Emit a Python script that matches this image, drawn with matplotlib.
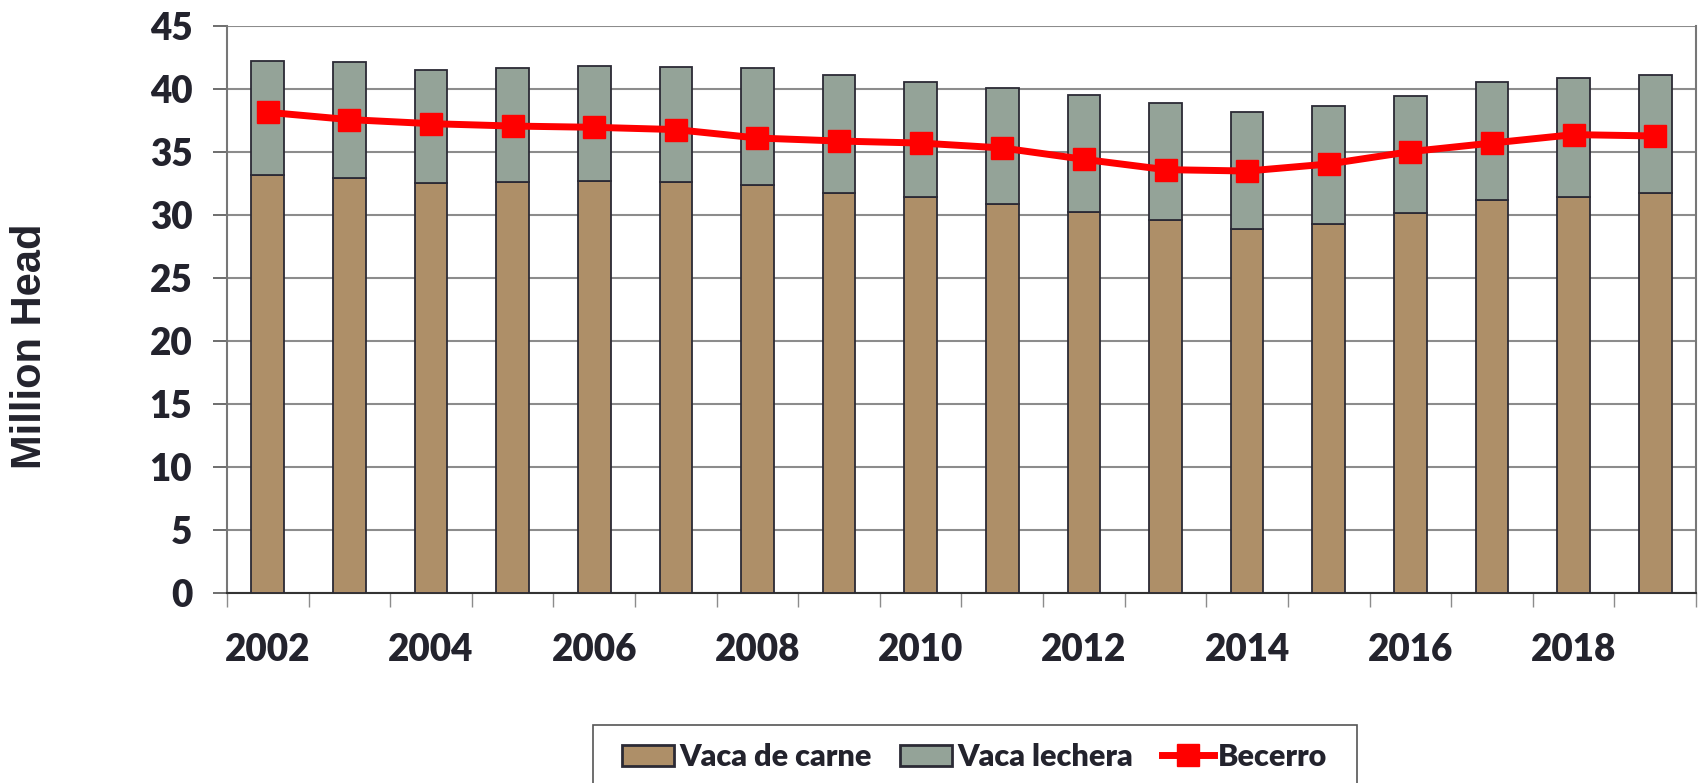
import numpy as np
import matplotlib
matplotlib.use("Agg")
import matplotlib.pyplot as plt
from matplotlib.patches import Rectangle
from matplotlib.lines import Line2D
from matplotlib.patches import Patch

# values (million head)
years = list(range(2002, 2020))
beef = [33.15, 32.97, 32.52, 32.65, 32.67, 32.62, 32.41, 31.78, 31.43,
        30.90, 30.24, 29.63, 28.92, 29.32, 30.16, 31.17, 31.43, 31.75]
dairy = [9.05, 9.15, 9.02, 9.02, 9.13, 9.16, 9.26, 9.33, 9.13,
         9.18, 9.28, 9.24, 9.25, 9.31, 9.28, 9.39, 9.44, 9.36]
calves = [38.15, 37.57, 37.25, 37.06, 36.96, 36.78, 36.11, 35.87, 35.71,
          35.32, 34.42, 33.60, 33.49, 34.05, 35.03, 35.71, 36.38, 36.27]
labels = ["Vaca de carne", "Vaca lechera", "Becerro"]
yticks = list(range(0, 50, 5))

brown = "#ae8f68"
green = "#94a398"
edge = "#2b2a35"
txt = "#23232d"
grid = "#8c8c8c"
tickfont = "Lato"

fig = plt.figure(figsize=(16.99, 7.83), dpi=100)
ax = fig.add_axes([227 / 1699, 1 - 593 / 783, 1469 / 1699, 567 / 783])

x = np.arange(len(years))
ax.bar(x, beef, width=0.4, color=brown, edgecolor=edge, linewidth=1.3, zorder=3)
ax.bar(x, dairy, width=0.4, bottom=beef, color=green, edgecolor=edge, linewidth=1.3, zorder=3)
ax.plot(x, calves, color="#ff0000", linewidth=5, marker="s", markersize=16.5, zorder=4)

ax.set_xlim(-0.5, len(years) - 0.5)
ax.set_ylim(0, 45)
ax.set_yticks(yticks)
ax.yaxis.grid(True, color=grid, linewidth=1.5, zorder=0)
ax.set_axisbelow(True)

ax.set_xticks(x)
ax.set_xticklabels([str(y) if y % 2 == 0 else "" for y in years])
ax.set_xticks(np.arange(-0.5, len(years), 1), minor=True)
ax.tick_params(axis="x", which="major", length=0, pad=29)
ax.tick_params(axis="x", which="minor", length=10, color=grid, width=1)
ax.tick_params(axis="y", length=10, color="#555555", width=1.2, pad=15)
for lab in ax.get_xticklabels() + ax.get_yticklabels():
    lab.set_fontfamily(tickfont)
    lab.set_fontweight("heavy")
    lab.set_fontsize(26.5)
    lab.set_color(txt)

for s in ["left", "right", "top"]:
    ax.spines[s].set_color("#777777")
    ax.spines[s].set_linewidth(1.5)
ax.spines["top"].set_visible(False)
ax.spines["bottom"].set_color("#333333")
ax.spines["bottom"].set_linewidth(1.5)

fig.text(30 / 1699, 1 - 346 / 783, "Million Head", rotation=90, ha="center", va="center",
         fontsize=30, fontweight="bold", family="Liberation Sans", color=txt)

# legend box, cut off by the bottom edge like the original
fig.patches.append(Rectangle((593 / 1699, -0.05), (1357 - 593) / 1699, 0.05 + (1 - 725 / 783),
                             transform=fig.transFigure, fill=False, edgecolor="#555555",
                             linewidth=1.2))
handles = [Patch(facecolor=brown, edgecolor=edge, linewidth=2),
           Patch(facecolor=green, edgecolor=edge, linewidth=2),
           Line2D([], [], color="#ff0000", linewidth=5, marker="s", markersize=16.5)]
fig.legend(handles, labels, loc="center", bbox_to_anchor=(975 / 1699, 1 - 757 / 783),
           ncol=3, frameon=False, handlelength=1.7, handleheight=0.66,
           handletextpad=0.15, columnspacing=0.95,
           prop={"family": tickfont, "weight": "heavy", "size": 22}, labelcolor=txt)

fig.savefig("out.png", dpi=100)
